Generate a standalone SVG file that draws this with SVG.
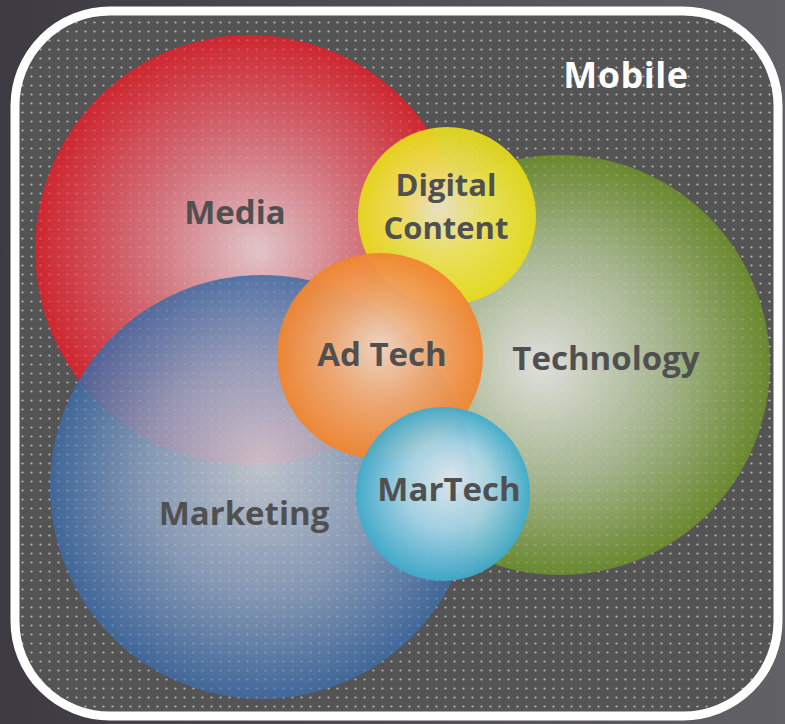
<svg xmlns="http://www.w3.org/2000/svg" width="785" height="724" viewBox="0 0 785 724">
<defs>
<linearGradient id="bg" x1="0" y1="0" x2="1" y2="0">
<stop offset="0" stop-color="#3d3b41"/><stop offset="1" stop-color="#626166"/>
</linearGradient>
<pattern id="dots" x="0" y="0" width="9" height="9" patternUnits="userSpaceOnUse">
<circle cx="4.5" cy="4.5" r="1.1" fill="#d8d8d8" fill-opacity="0.75"/>
</pattern>
<radialGradient id="gRed" cx="0.5" cy="0.5" r="0.5" fx="0.52" fy="0.5">
<stop offset="0" stop-color="#e6c8cc"/><stop offset="0.5" stop-color="#d7727c"/><stop offset="1" stop-color="#d2262f"/>
</radialGradient>
<radialGradient id="gGreen" cx="0.5" cy="0.5" r="0.5" fx="0.45" fy="0.5">
<stop offset="0" stop-color="#e4e4e0"/><stop offset="0.55" stop-color="#a8b890"/><stop offset="1" stop-color="#6b8a2f"/>
</radialGradient>
<radialGradient id="gBlue" cx="0.5" cy="0.5" r="0.5" fx="0.5" fy="0.45">
<stop offset="0" stop-color="#d0d6e0"/><stop offset="0.55" stop-color="#8ea4c4"/><stop offset="1" stop-color="#3e6ba5"/>
</radialGradient>
<radialGradient id="gYellow" cx="0.5" cy="0.5" r="0.5" fx="0.45" fy="0.45">
<stop offset="0" stop-color="#f2e7cf"/><stop offset="0.5" stop-color="#f0e55a"/><stop offset="1" stop-color="#e7dc18"/>
</radialGradient>
<radialGradient id="gOrange" cx="0.5" cy="0.5" r="0.5" fx="0.5" fy="0.45">
<stop offset="0" stop-color="#f4d7c4"/><stop offset="0.5" stop-color="#f2a870"/><stop offset="1" stop-color="#f0852f"/>
</radialGradient>
<radialGradient id="gCyan" cx="0.5" cy="0.5" r="0.5" fx="0.55" fy="0.4">
<stop offset="0" stop-color="#e6ecf0"/><stop offset="0.5" stop-color="#a9d6e6"/><stop offset="1" stop-color="#3fabcc"/>
</radialGradient>
<style>
.lbl{font-family:"Open Sans","Liberation Sans",sans-serif;font-weight:bold;font-size:33px;fill:#505050;text-anchor:middle}
.dc{font-size:31px}
.mob{font-family:"Open Sans","Liberation Sans",sans-serif;font-weight:bold;font-size:36px;fill:#ffffff;text-anchor:middle;letter-spacing:0.5px}
</style>
</defs>
<rect x="0" y="0" width="785" height="724" fill="url(#bg)"/>
<g id="frame">
<rect x="15" y="11" width="763" height="705" rx="95" ry="95" fill="#545454"/>
<rect x="15" y="11" width="763" height="705" rx="95" ry="95" fill="url(#dots)"/>
<text class="mob" x="626" y="88">Mobile</text>
</g>
<g id="media" opacity="0.97"><circle cx="250" cy="250" r="215" fill="url(#gRed)"/><circle cx="250" cy="250" r="215" fill="url(#dots)" opacity="0.35"/></g>
<g id="technology" opacity="0.97"><circle cx="560" cy="365" r="210" fill="url(#gGreen)"/><circle cx="560" cy="365" r="210" fill="url(#dots)" opacity="0.35"/></g>
<g id="marketing" opacity="0.85"><circle cx="262" cy="487" r="212" fill="url(#gBlue)"/><circle cx="262" cy="487" r="212" fill="url(#dots)" opacity="0.3"/></g>
<g id="digital-content" opacity="0.92"><circle cx="447" cy="216" r="89" fill="url(#gYellow)"/></g>
<g id="ad-tech" opacity="0.95"><circle cx="380" cy="356" r="103" fill="url(#gOrange)"/></g>
<g id="martech" opacity="0.93"><circle cx="443" cy="494" r="87" fill="url(#gCyan)"/></g>
<g id="labels">
<text class="lbl" x="235" y="224">Media</text>
<text class="lbl dc" x="446" y="196">Digital</text>
<text class="lbl dc" x="446" y="239">Content</text>
<text class="lbl" x="382" y="366">Ad Tech</text>
<text class="lbl" x="606" y="370">Technology</text>
<text class="lbl" x="449" y="501">MarTech</text>
<text class="lbl" x="244" y="525">Marketing</text>
</g>
<rect x="15" y="11" width="763" height="705" rx="95" ry="95" fill="none" stroke="#ffffff" stroke-width="9"/>
<g id="connectors"/>
</svg>
